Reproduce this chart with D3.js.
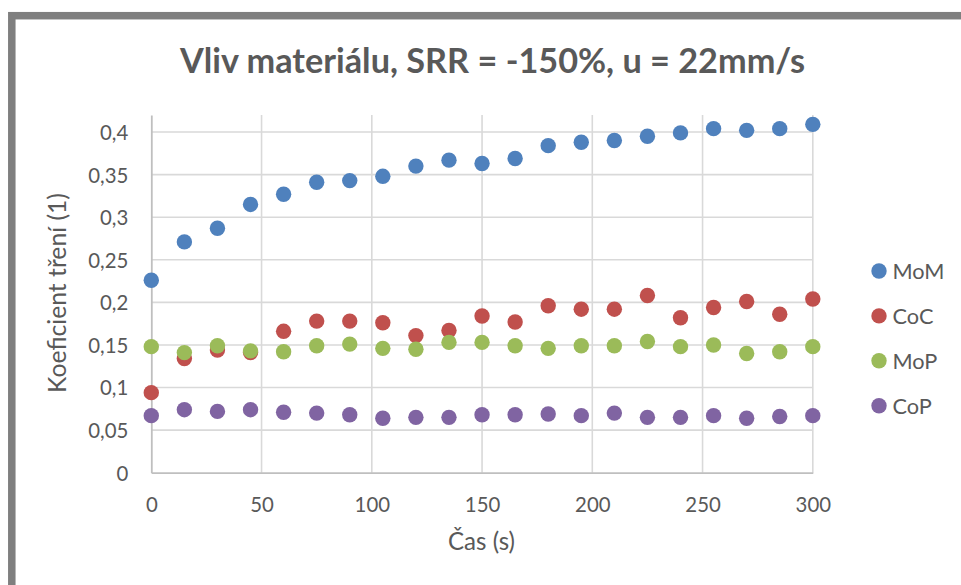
<!DOCTYPE html>
<html><head><meta charset="utf-8">
<script src="https://cdn.jsdelivr.net/npm/d3@7"></script>
<style>
body{margin:0;background:#fff;}
svg text{font-family:Lato,"Open Sans","DejaVu Sans",sans-serif;fill:#595959;}
</style>
</head><body>
<svg id="chart" width="961" height="585"></svg>
<script>
// ---- data ----
const times = [0,15,30,45,60,75,90,105,120,135,150,165,180,195,210,225,240,255,270,285,300];
const seriesNames = ["MoM","CoC","MoP","CoP"];
const seriesColors = ["#4F81BD","#C0504D","#9BBB59","#8064A2"];
const valuesMoM = [0.226,0.271,0.287,0.315,0.327,0.341,0.343,0.348,0.360,0.367,0.363,0.369,0.384,0.388,0.390,0.395,0.399,0.404,0.402,0.404,0.409];
const valuesCoC = [0.094,0.134,0.144,0.141,0.166,0.178,0.178,0.176,0.161,0.167,0.184,0.177,0.196,0.192,0.192,0.208,0.182,0.194,0.201,0.186,0.204];
const valuesMoP = [0.148,0.141,0.149,0.143,0.142,0.149,0.151,0.146,0.145,0.153,0.153,0.149,0.146,0.149,0.149,0.154,0.148,0.150,0.140,0.142,0.148];
const valuesCoP = [0.067,0.074,0.072,0.074,0.071,0.070,0.068,0.064,0.065,0.065,0.068,0.068,0.069,0.067,0.070,0.065,0.065,0.067,0.064,0.066,0.067];
const xTicks = [0,50,100,150,200,250,300];
const yTicks = [0,0.05,0.1,0.15,0.2,0.25,0.3,0.35,0.4];
const yMax = 0.42;
const chartTitle = "Vliv materiálu, SRR = -150%, u = 22mm/s";
const xTitle = "Čas (s)";
const yTitle = "Koeficient tření (1)";

(function(){
const seriesValues = [valuesMoM, valuesCoC, valuesMoP, valuesCoP];
const series = seriesNames.map((n,i)=>({name:n,color:seriesColors[i],points:times.map((t,j)=>({x:t,y:seriesValues[i][j]}))}));

// ---- layout ----
const svg = d3.select("#chart");
const pL = 151.3, pR = 812.8, pT = 115, pB = 472.7;
const x = d3.scaleLinear().domain([0,300]).range([pL,pR]);
const y = d3.scaleLinear().domain([0,yMax]).range([pB,pT]);
const locale = d3.formatLocale({decimal:",",thousands:" ",grouping:[3],currency:["","€"]});
const yFmt = v => locale.format("~g")(v);

svg.append("rect").attr("width",961).attr("height",585).attr("fill","#fff");
// frame
svg.append("rect").attr("x",11.8).attr("y",15.7).attr("width",1000).attr("height",700)
  .attr("fill","none").attr("stroke","#7f7f7f").attr("stroke-width",7.5);

function fit(sel, target){
  const fs = parseFloat(sel.attr("font-size"));
  const w = sel.node().getComputedTextLength();
  const nf = fs*target/w;
  sel.attr("font-size", nf);
  return nf;
}
const probe = svg.append("text").attr("font-size",20).text("100");
const tickFs = fit(probe, 35.5); probe.remove();
const probe2 = svg.append("text").attr("font-size",20).text(seriesNames[0]);
const legFs = fit(probe2, 52); probe2.remove();

// gridlines
svg.append("g").selectAll("line").data(yTicks.filter(v=>v>0)).join("line")
  .attr("x1",pL).attr("x2",pR).attr("y1",d=>y(d)).attr("y2",d=>y(d))
  .attr("stroke","#d9d9d9").attr("stroke-width",1.6);
svg.append("g").selectAll("line").data(xTicks.filter(v=>v>0)).join("line")
  .attr("y1",pT).attr("y2",pB).attr("x1",d=>x(d)).attr("x2",d=>x(d))
  .attr("stroke","#d9d9d9").attr("stroke-width",1.6);

// axes
const gx = svg.append("g").attr("transform",`translate(0,${pB})`)
  .call(d3.axisBottom(x).tickValues(xTicks).tickSize(0).tickFormat(d3.format("d")));
gx.attr("font-family",null).attr("font-size",null);
gx.select(".domain").attr("stroke","#bfbfbf").attr("stroke-width",1.8);
gx.selectAll("text").attr("dy",0).attr("y",39).attr("font-size",tickFs).attr("fill",null);

const gy = svg.append("g").attr("transform",`translate(${pL},0)`)
  .call(d3.axisLeft(y).tickValues(yTicks).tickSize(0).tickPadding(23).tickFormat(yFmt));
gy.attr("font-family",null).attr("font-size",null);
gy.select(".domain").attr("stroke","#bfbfbf").attr("stroke-width",1.8);
gy.selectAll("text").attr("dy",0).attr("y",7.4).attr("font-size",tickFs).attr("fill",null);

// points
series.forEach(s=>{
  svg.append("g").selectAll("circle").data(s.points).join("circle")
    .attr("cx",d=>x(d.x)).attr("cy",d=>y(d.y)).attr("r",7.7).attr("fill",s.color);
});

// title
const t = svg.append("text").attr("x",492.5).attr("y",73).attr("text-anchor","middle")
  .attr("font-size",30).attr("font-weight","bold").text(chartTitle);
fit(t, 625);

// axis titles
const xt = svg.append("text").attr("x",481.5).attr("y",550).attr("text-anchor","middle")
  .attr("font-size",24).text(xTitle);
fit(xt, 67);
const yt = svg.append("text").attr("transform","translate(66,293) rotate(-90)").attr("text-anchor","middle")
  .attr("font-size",24).text(yTitle);
fit(yt, 200);

// legend
const lg = svg.append("g");
series.forEach((s,i)=>{
  const cy = 271 + i*44.9;
  lg.append("circle").attr("cx",879).attr("cy",cy).attr("r",7.7).attr("fill",s.color);
  lg.append("text").attr("x",892.5).attr("y",cy).attr("dy","0.36em").attr("font-size",legFs).text(s.name);
});
})();
</script>
</body></html>
